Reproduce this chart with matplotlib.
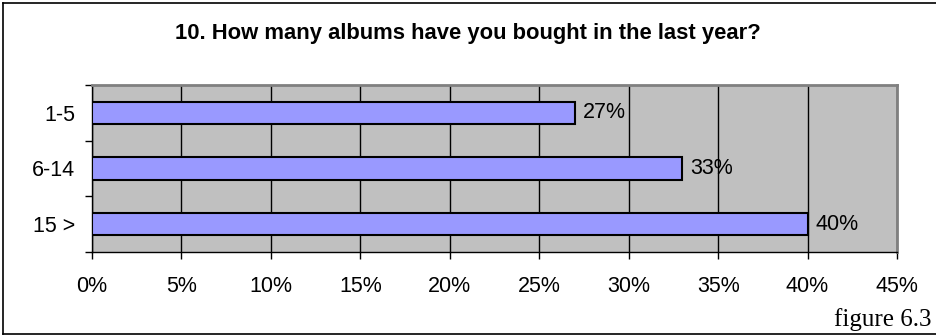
import matplotlib.pyplot as plt
import matplotlib.lines as mlines
import numpy as np

# data
categories = ["1-5", "6-14", "15 >"]
percent = [27, 33, 40]
x_ticks = [0, 5, 10, 15, 20, 25, 30, 35, 40, 45]

plt.rcParams['font.family'] = ['Liberation Sans', 'DejaVu Sans']

W, H = 936, 336
fig = plt.figure(figsize=(W / 100, H / 100), dpi=100)
fig.patch.set_facecolor('white')

# plot area in pixels: left 92, right 897, top 85, bottom 252
left, right, top, bottom = 92, 897, 85, 252
ax = fig.add_axes([left / W, 1 - bottom / H, (right - left) / W, (bottom - top) / H])
ax.set_facecolor('#c0c0c0')

y = np.arange(len(categories))
ax.barh(y, percent, height=0.4, color='#9999ff', edgecolor='black', linewidth=1.5, zorder=3)

ax.set_xlim(0, 45)
ax.set_ylim(len(categories) - 0.5, -0.5)
ax.set_xticks(x_ticks)
ax.set_xticklabels([f"{t}%" for t in x_ticks], fontsize=15.5)
ax.tick_params(axis='x', direction='out', length=5, width=1, pad=12, color='black')

# y ticks at category boundaries, labels at centres
ax.set_yticks(np.arange(-0.5, len(categories), 1.0))
ax.set_yticklabels([])
ax.set_yticks(y, minor=True)
ax.set_yticklabels(categories, minor=True, fontsize=15.5)
ax.tick_params(axis='y', which='major', direction='out', length=5, width=1, color='black')
ax.tick_params(axis='y', which='minor', length=0, pad=12)

ax.grid(axis='x', color='black', linewidth=1, zorder=1)
ax.set_axisbelow(True)

for s in ['top', 'right']:
    ax.spines[s].set_color('#808080')
    ax.spines[s].set_linewidth(2)
for s in ['left', 'bottom']:
    ax.spines[s].set_color('black')
    ax.spines[s].set_linewidth(1)

for yi, v in zip(y, percent):
    ax.text(v + 0.45, yi, f"{v}%", va='center', ha='left', fontsize=15.5, zorder=4)

fig.text(0.5, 1 - 33 / H, "10. How many albums have you bought in the last year?",
         ha='center', va='center', fontsize=15.8, fontweight='bold')
fig.text(932 / W, 1 - 320 / H, "figure 6.3", ha='right', va='center',
         fontsize=18, family=['Liberation Serif', 'DejaVu Serif'])

# outer frame (left, top, bottom)
for xs, ys in [([3, 3], [3, 334]), ([3, 936], [3, 3]), ([3, 936], [334, 334])]:
    fig.add_artist(mlines.Line2D([v / W for v in xs], [1 - v / H for v in ys],
                                 color='black', linewidth=1.2))

fig.savefig('out.png', dpi=100)
